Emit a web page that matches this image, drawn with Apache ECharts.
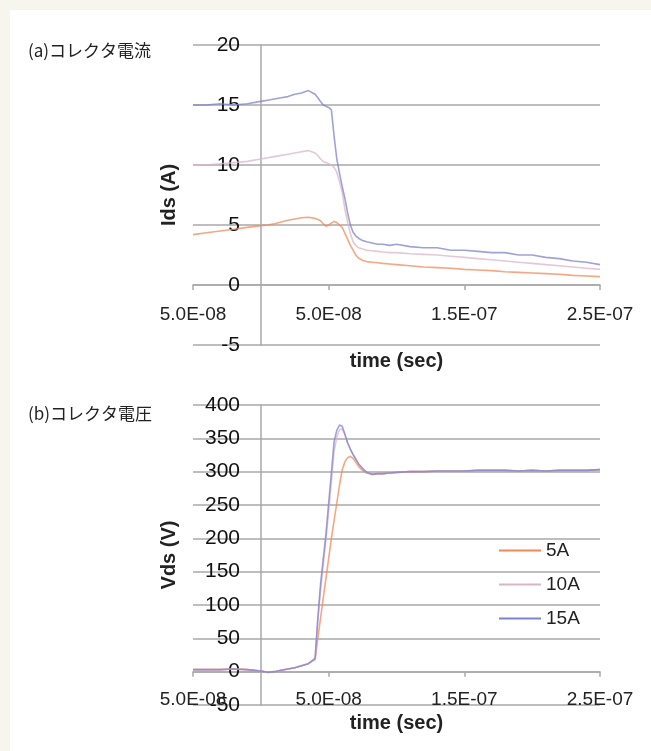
<!DOCTYPE html>
<html>
<head>
<meta charset="utf-8">
<script src="https://cdn.jsdelivr.net/npm/echarts@6/dist/echarts.min.js"></script>
<style>
  html, body { margin: 0; padding: 0; background: #f6f5ee; }
  .card { position: absolute; left: 10px; top: 10px; right: 0; bottom: 0; background: #fff; }
  #chart { position: absolute; left: 0; top: 0; width: 651px; height: 751px; }
</style>
</head>
<body>
<div class="card"></div>
<div id="chart"></div>
<script>
// 時間軸 (ns)
const time = [-50, -40, -30, -20, -10, 0, 5, 10, 15, 20, 25, 30, 35, 40,
  42, 44, 46, 48, 50, 52, 54, 56, 58, 60, 62, 64, 66, 68, 70, 72,
  75, 78, 82, 86, 90, 95, 100,
  110, 120, 130, 140, 150, 160, 170, 180, 190, 200, 210, 220, 230, 240, 250]

// (a) コレクタ電流 Ids (A)
const ids5A = [4.2, 4.35, 4.5, 4.65, 4.8, 4.95, 5.0, 5.1, 5.25, 5.4, 5.5, 5.6, 5.65, 5.55,
  5.45, 5.35, 5.1, 4.9, 5.0, 5.15, 5.3, 5.2, 5.0, 4.8, 4.3, 3.8, 3.3, 2.9, 2.5, 2.25,
  2.05, 1.95, 1.9, 1.85, 1.8, 1.75, 1.7,
  1.6, 1.5, 1.45, 1.4, 1.3, 1.25, 1.2, 1.1, 1.05, 1.0, 0.95, 0.9, 0.8, 0.75, 0.7]
const ids10A = [10.0, 10.0, 10.1, 10.2, 10.3, 10.5, 10.6, 10.7, 10.8, 10.9, 11.0, 11.1, 11.2, 11.0,
  10.8, 10.5, 10.3, 10.2, 10.1, 10.0, 9.8, 9.4, 8.6, 7.7, 6.3, 5.2, 4.3, 3.6, 3.3, 3.1,
  3.0, 2.9, 2.85, 2.8, 2.75, 2.7, 2.7,
  2.6, 2.55, 2.5, 2.4, 2.3, 2.2, 2.1, 2.0, 1.9, 1.8, 1.7, 1.6, 1.5, 1.4, 1.3]
const ids15A = [15.0, 15.0, 15.1, 15.0, 15.1, 15.3, 15.4, 15.5, 15.6, 15.7, 15.9, 16.0, 16.2, 15.9,
  15.6, 15.3, 15.0, 14.9, 14.8, 14.6, 12.4, 10.5, 9.3, 8.2, 7.2, 6.0, 5.0, 4.4, 4.1, 3.9,
  3.7, 3.6, 3.5, 3.4, 3.4, 3.3, 3.4,
  3.2, 3.1, 3.1, 2.9, 2.9, 2.8, 2.7, 2.7, 2.5, 2.5, 2.3, 2.2, 2.0, 1.9, 1.7]

// (b) コレクタ電圧 Vds (V)
const vds5A = [3, 3, 3, 4, 3, 1, -1, 0, 2, 4, 6, 9, 12, 18,
  50, 80, 110, 140, 170, 200, 227, 253, 280, 303, 315, 321, 323, 320, 314, 308,
  302, 298, 296, 297, 297, 298, 299,
  300, 300, 301, 301, 301, 302, 302, 302, 301, 302, 301, 302, 302, 302, 303]
const vds10A = [3, 3, 3, 4, 3, 1, -1, 0, 2, 4, 6, 9, 12, 19,
  75, 122, 160, 198, 240, 285, 330, 352, 363, 364, 355, 343, 333, 325, 318, 311,
  304, 299, 296, 297, 297, 298, 299,
  300, 300, 301, 301, 301, 302, 302, 302, 301, 302, 301, 302, 302, 302, 303]
const vds15A = [3, 3, 3, 4, 3, 1, -1, 0, 2, 4, 6, 9, 12, 20,
  80, 131, 169, 206, 253, 298, 345, 362, 370, 368, 356, 343, 334, 326, 319, 312,
  305, 299, 296, 297, 297, 298, 299,
  300, 300, 301, 301, 301, 302, 302, 302, 301, 302, 301, 302, 302, 302, 303]

const seriesNames = ['5A', '10A', '15A']
const seriesColors = ['#f08a58', '#dcb4c8', '#7f82cc']

// 目盛ラベル
const timeTicks = [-50, 50, 150, 250]
const timeLabels = ['5.0E-08', '5.0E-08', '1.5E-07', '2.5E-07']

const latin = 'Liberation Sans, Arial, sans-serif'
const gridColor = '#a9a9a9'

const pair = (vals) => time.map((t, i) => [t, vals[i]])

// ラベルはゼロ位置の軸に沿わせるため margin で寄せる
const makeX = (gridIndex, labelMargin, nameGap) => ({
  type: 'value',
  gridIndex,
  min: -50,
  max: 250,
  interval: 100,
  name: 'time (sec)',
  nameLocation: 'middle',
  nameGap,
  nameTextStyle: { fontFamily: latin, fontSize: 20, fontWeight: 'bold', color: '#222' },
  axisLine: { onZero: true, lineStyle: { color: gridColor, width: 1.5 } },
  axisTick: { show: true, length: 5, lineStyle: { color: gridColor, width: 1.5 } },
  axisLabel: {
    margin: labelMargin,
    fontFamily: latin,
    fontSize: 19,
    color: '#222',
    formatter: (v) => {
      const i = timeTicks.indexOf(Math.round(v))
      return i >= 0 ? timeLabels[i] : ''
    }
  },
  splitLine: { show: false }
})

const makeY = (gridIndex, min, max, interval, name) => ({
  type: 'value',
  gridIndex,
  min,
  max,
  interval,
  name,
  nameLocation: 'middle',
  nameGap: 14,
  nameTextStyle: { fontFamily: latin, fontSize: 20, fontWeight: 'bold', color: '#222' },
  axisLine: { show: true, onZero: true, lineStyle: { color: gridColor, width: 1.5 } },
  axisTick: { show: false },
  axisLabel: { margin: -47, fontFamily: latin, fontSize: 21, color: '#111' },
  splitLine: { show: true, lineStyle: { color: gridColor, width: 1.5 } }
})

const lineSeries = (name, color, vals, idx) => ({
  name,
  type: 'line',
  xAxisIndex: idx,
  yAxisIndex: idx,
  data: pair(vals),
  symbol: 'none',
  smooth: false,
  lineStyle: { color, width: 1.6, opacity: 0.75 },
  itemStyle: { color }
})

const chart = echarts.init(document.getElementById('chart'), null, { renderer: 'canvas' })

const option = {
  backgroundColor: 'transparent',
  animation: false,
  title: [
    { text: '(a)コレクタ電流', left: 28, top: 42, padding: 0,
      textStyle: { fontFamily: 'Noto Sans CJK JP', fontSize: 17, fontWeight: 'normal', color: '#222' } },
    { text: '(b)コレクタ電圧', left: 28, top: 405, padding: 0,
      textStyle: { fontFamily: 'Noto Sans CJK JP', fontSize: 17, fontWeight: 'normal', color: '#222' } }
  ],
  legend: {
    data: seriesNames,
    orient: 'vertical',
    left: 494,
    top: 536,
    icon: 'rect',
    itemWidth: 42,
    itemHeight: 2,
    itemGap: 15,
    textStyle: { fontFamily: latin, fontSize: 19, color: '#222' }
  },
  grid: [
    { left: 193, right: 51, top: 45, height: 300 },
    { left: 193, right: 51, top: 405, height: 300 }
  ],
  xAxis: [makeX(0, -40, 6), makeX(1, -15, 8)],
  yAxis: [makeY(0, -5, 20, 5, 'Ids (A)'), makeY(1, -50, 400, 50, 'Vds (V)')],
  series: [
    lineSeries(seriesNames[0], seriesColors[0], ids5A, 0),
    lineSeries(seriesNames[1], seriesColors[1], ids10A, 0),
    lineSeries(seriesNames[2], seriesColors[2], ids15A, 0),
    lineSeries(seriesNames[0], seriesColors[0], vds5A, 1),
    lineSeries(seriesNames[1], seriesColors[1], vds10A, 1),
    lineSeries(seriesNames[2], seriesColors[2], vds15A, 1)
  ]
}

chart.setOption(option)
window.addEventListener('resize', () => chart.resize())
</script>
</body>
</html>
